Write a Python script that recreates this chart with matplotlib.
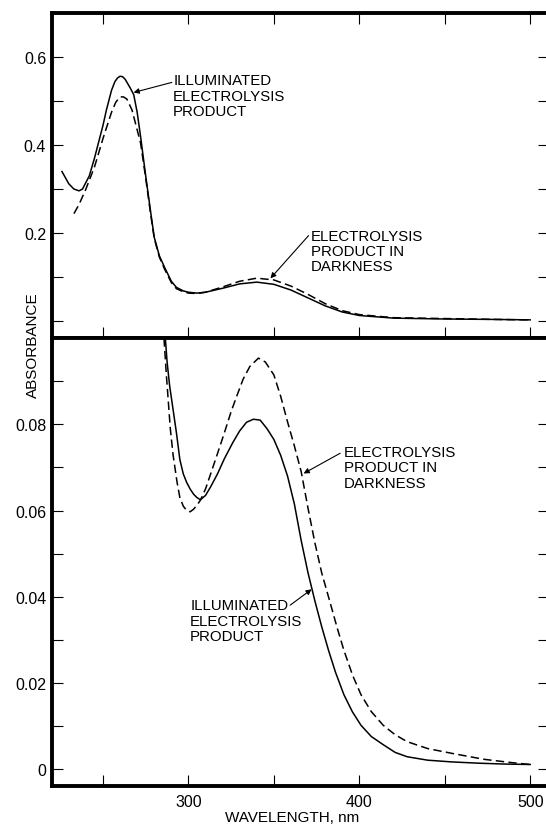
import matplotlib.pyplot as plt

plt.rcParams['font.family'] = ['Liberation Sans', 'DejaVu Sans']

# upper panel (full absorbance scale)
wl_top_illum = [226, 230, 233, 236, 238, 242, 245, 248, 250, 252, 255, 257, 258.5, 260, 261.5,
                263, 266, 268, 270, 272, 275, 278, 280, 283, 286, 290, 293, 297, 300, 305, 310,
                320, 330, 340, 350, 360, 370, 380, 390, 400, 420, 450, 480, 500]
abs_top_illum = [0.340, 0.312, 0.300, 0.296, 0.300, 0.330, 0.370, 0.415, 0.445, 0.480, 0.525,
                 0.545, 0.553, 0.557, 0.556, 0.550, 0.530, 0.515, 0.475, 0.420, 0.330, 0.245,
                 0.190, 0.148, 0.122, 0.090, 0.076, 0.068, 0.065, 0.063, 0.065, 0.074, 0.084,
                 0.088, 0.083, 0.070, 0.052, 0.034, 0.020, 0.012, 0.006, 0.004, 0.003, 0.002]
wl_top_dark = [233, 236, 240, 245, 250, 255, 257.5, 260, 262, 264, 267, 270, 272, 275, 278, 280,
               283, 286, 290, 293, 297, 300, 305, 310, 320, 330, 340, 350, 360, 370, 380, 390,
               400, 420, 450, 480, 500]
abs_top_dark = [0.244, 0.265, 0.300, 0.350, 0.415, 0.475, 0.498, 0.510, 0.510, 0.505, 0.480,
                0.435, 0.405, 0.325, 0.240, 0.188, 0.145, 0.118, 0.087, 0.073, 0.066, 0.063,
                0.062, 0.065, 0.077, 0.090, 0.097, 0.093, 0.079, 0.060, 0.039, 0.023, 0.014,
                0.007, 0.005, 0.003, 0.002]

# lower panel (expanded scale)
wl_bot_illum = [286.5, 287.5, 289, 291, 293, 295, 297, 299, 301, 303, 305, 307, 310, 313, 317,
                321, 326, 330, 334, 338, 342, 346, 350, 354, 358, 362, 366, 370, 374, 378, 382,
                386, 391, 396, 401, 407, 414, 421, 428, 440, 454, 470, 485, 500]
abs_bot_illum = [0.100, 0.0946, 0.089, 0.0835, 0.078, 0.0718, 0.0685, 0.0665, 0.065, 0.0638,
                 0.063, 0.0625, 0.0635, 0.0655, 0.0685, 0.072, 0.0758, 0.0785, 0.0805, 0.0812,
                 0.081, 0.079, 0.0765, 0.0728, 0.068, 0.0615, 0.053, 0.0455, 0.039, 0.033,
                 0.0275, 0.0225, 0.0172, 0.0132, 0.0101, 0.0075, 0.0056, 0.0038, 0.0028, 0.002,
                 0.0016, 0.0013, 0.0011, 0.001]
wl_bot_dark = [285.7, 287, 289.4, 291, 293.3, 295, 297, 299, 301, 303, 305, 307, 310, 313, 317,
               321, 325, 328.5, 332, 336, 341, 345, 350, 354, 358, 362, 366, 370, 374, 378,
               383, 387, 391, 396, 401, 407, 414, 421, 428, 440, 454, 473, 490, 500]
abs_bot_dark = [0.100, 0.092, 0.079, 0.073, 0.0667, 0.063, 0.061, 0.060, 0.0597, 0.0603, 0.0612,
                0.0624, 0.065, 0.0685, 0.0732, 0.078, 0.083, 0.0868, 0.0905, 0.0935, 0.0954,
                0.0945, 0.0915, 0.0865, 0.0806, 0.075, 0.069, 0.0605, 0.0525, 0.0455, 0.0385,
                0.0328, 0.0275, 0.0218, 0.0172, 0.0133, 0.0101, 0.0079, 0.0063, 0.0047, 0.0036,
                0.0022, 0.0014, 0.001]

x_ticks = [250, 300, 350, 400, 450, 500]
x_ticklabels = ['', '300', '', '400', '', '500']
top_yticks = [0.0, 0.1, 0.2, 0.3, 0.4, 0.5, 0.6]
top_yticklabels = ['', '', '0.2', '', '0.4', '', '0.6']
bot_yticks = [0.0, 0.01, 0.02, 0.03, 0.04, 0.05, 0.06, 0.07, 0.08, 0.09]
bot_yticklabels = ['0', '', '0.02', '', '0.04', '', '0.06', '', '0.08', '']

label_illum = 'ILLUMINATED\nELECTROLYSIS\nPRODUCT'
label_dark = 'ELECTROLYSIS\nPRODUCT IN\nDARKNESS'

fig = plt.figure(figsize=(5.46, 8.28), dpi=100)
ax_top = fig.add_axes([0.0947, 0.5902, 0.9108, 0.3923])
ax_bot = fig.add_axes([0.0947, 0.0495, 0.9108, 0.5407])

dash = (0, (5.5, 2.8))
lw = 1.1

ax_top.plot(wl_top_illum, abs_top_illum, color='black', lw=lw)
ax_top.plot(wl_top_dark, abs_top_dark, color='black', lw=lw, linestyle=dash)
ax_bot.plot(wl_bot_illum, abs_bot_illum, color='black', lw=lw)
ax_bot.plot(wl_bot_dark, abs_bot_dark, color='black', lw=lw, linestyle=dash)

ax_top.set_ylim(-0.04, 0.7)
ax_bot.set_ylim(-0.004, 0.1)
ax_top.set_yticks(top_yticks, top_yticklabels)
ax_bot.set_yticks(bot_yticks, bot_yticklabels)

for ax in (ax_top, ax_bot):
    ax.set_xlim(220, 511)
    ax.set_xticks(x_ticks, x_ticklabels)
    for s in ax.spines.values():
        s.set_linewidth(2.8)
    ax.tick_params(direction='in', length=8, width=0.8, labelsize=11.5, right=True)
    ax.tick_params(axis='y', pad=4)
    ax.tick_params(axis='x', pad=5.5)

ax_top.tick_params(axis='x', top=True, labelbottom=False)

arrow = dict(arrowstyle='-|>', lw=0.8, color='black', mutation_scale=8, shrinkA=0, shrinkB=0)
fs = 10.8

ax_top.text(291.1, 0.564, label_illum, ha='left', va='top', fontsize=fs, linespacing=1.12)
ax_top.annotate('', xy=(267.9, 0.520), xytext=(290.3, 0.543), arrowprops=arrow)
ax_top.text(371.5, 0.2096, label_dark, ha='left', va='top', fontsize=fs, linespacing=1.12)
ax_top.annotate('', xy=(348, 0.0966), xytext=(370.3, 0.194), arrowprops=arrow)

ax_bot.text(390.8, 0.0752, label_dark, ha='left', va='top', fontsize=fs, linespacing=1.12)
ax_bot.annotate('', xy=(367.4, 0.0686), xytext=(388.8, 0.0733), arrowprops=arrow)
ax_bot.text(301, 0.0396, label_illum, ha='left', va='top', fontsize=fs, linespacing=1.12)
ax_bot.annotate('', xy=(372.1, 0.0417), xytext=(359.5, 0.038), arrowprops=arrow)

fig.text(32.5 / 546, 1 - 345 / 828, 'ABSORBANCE', rotation=90, ha='center', va='center', fontsize=11)
fig.text(292 / 546, 1 - 818 / 828, 'WAVELENGTH, nm', ha='center', va='center', fontsize=11)

fig.savefig('out.png', dpi=100)
